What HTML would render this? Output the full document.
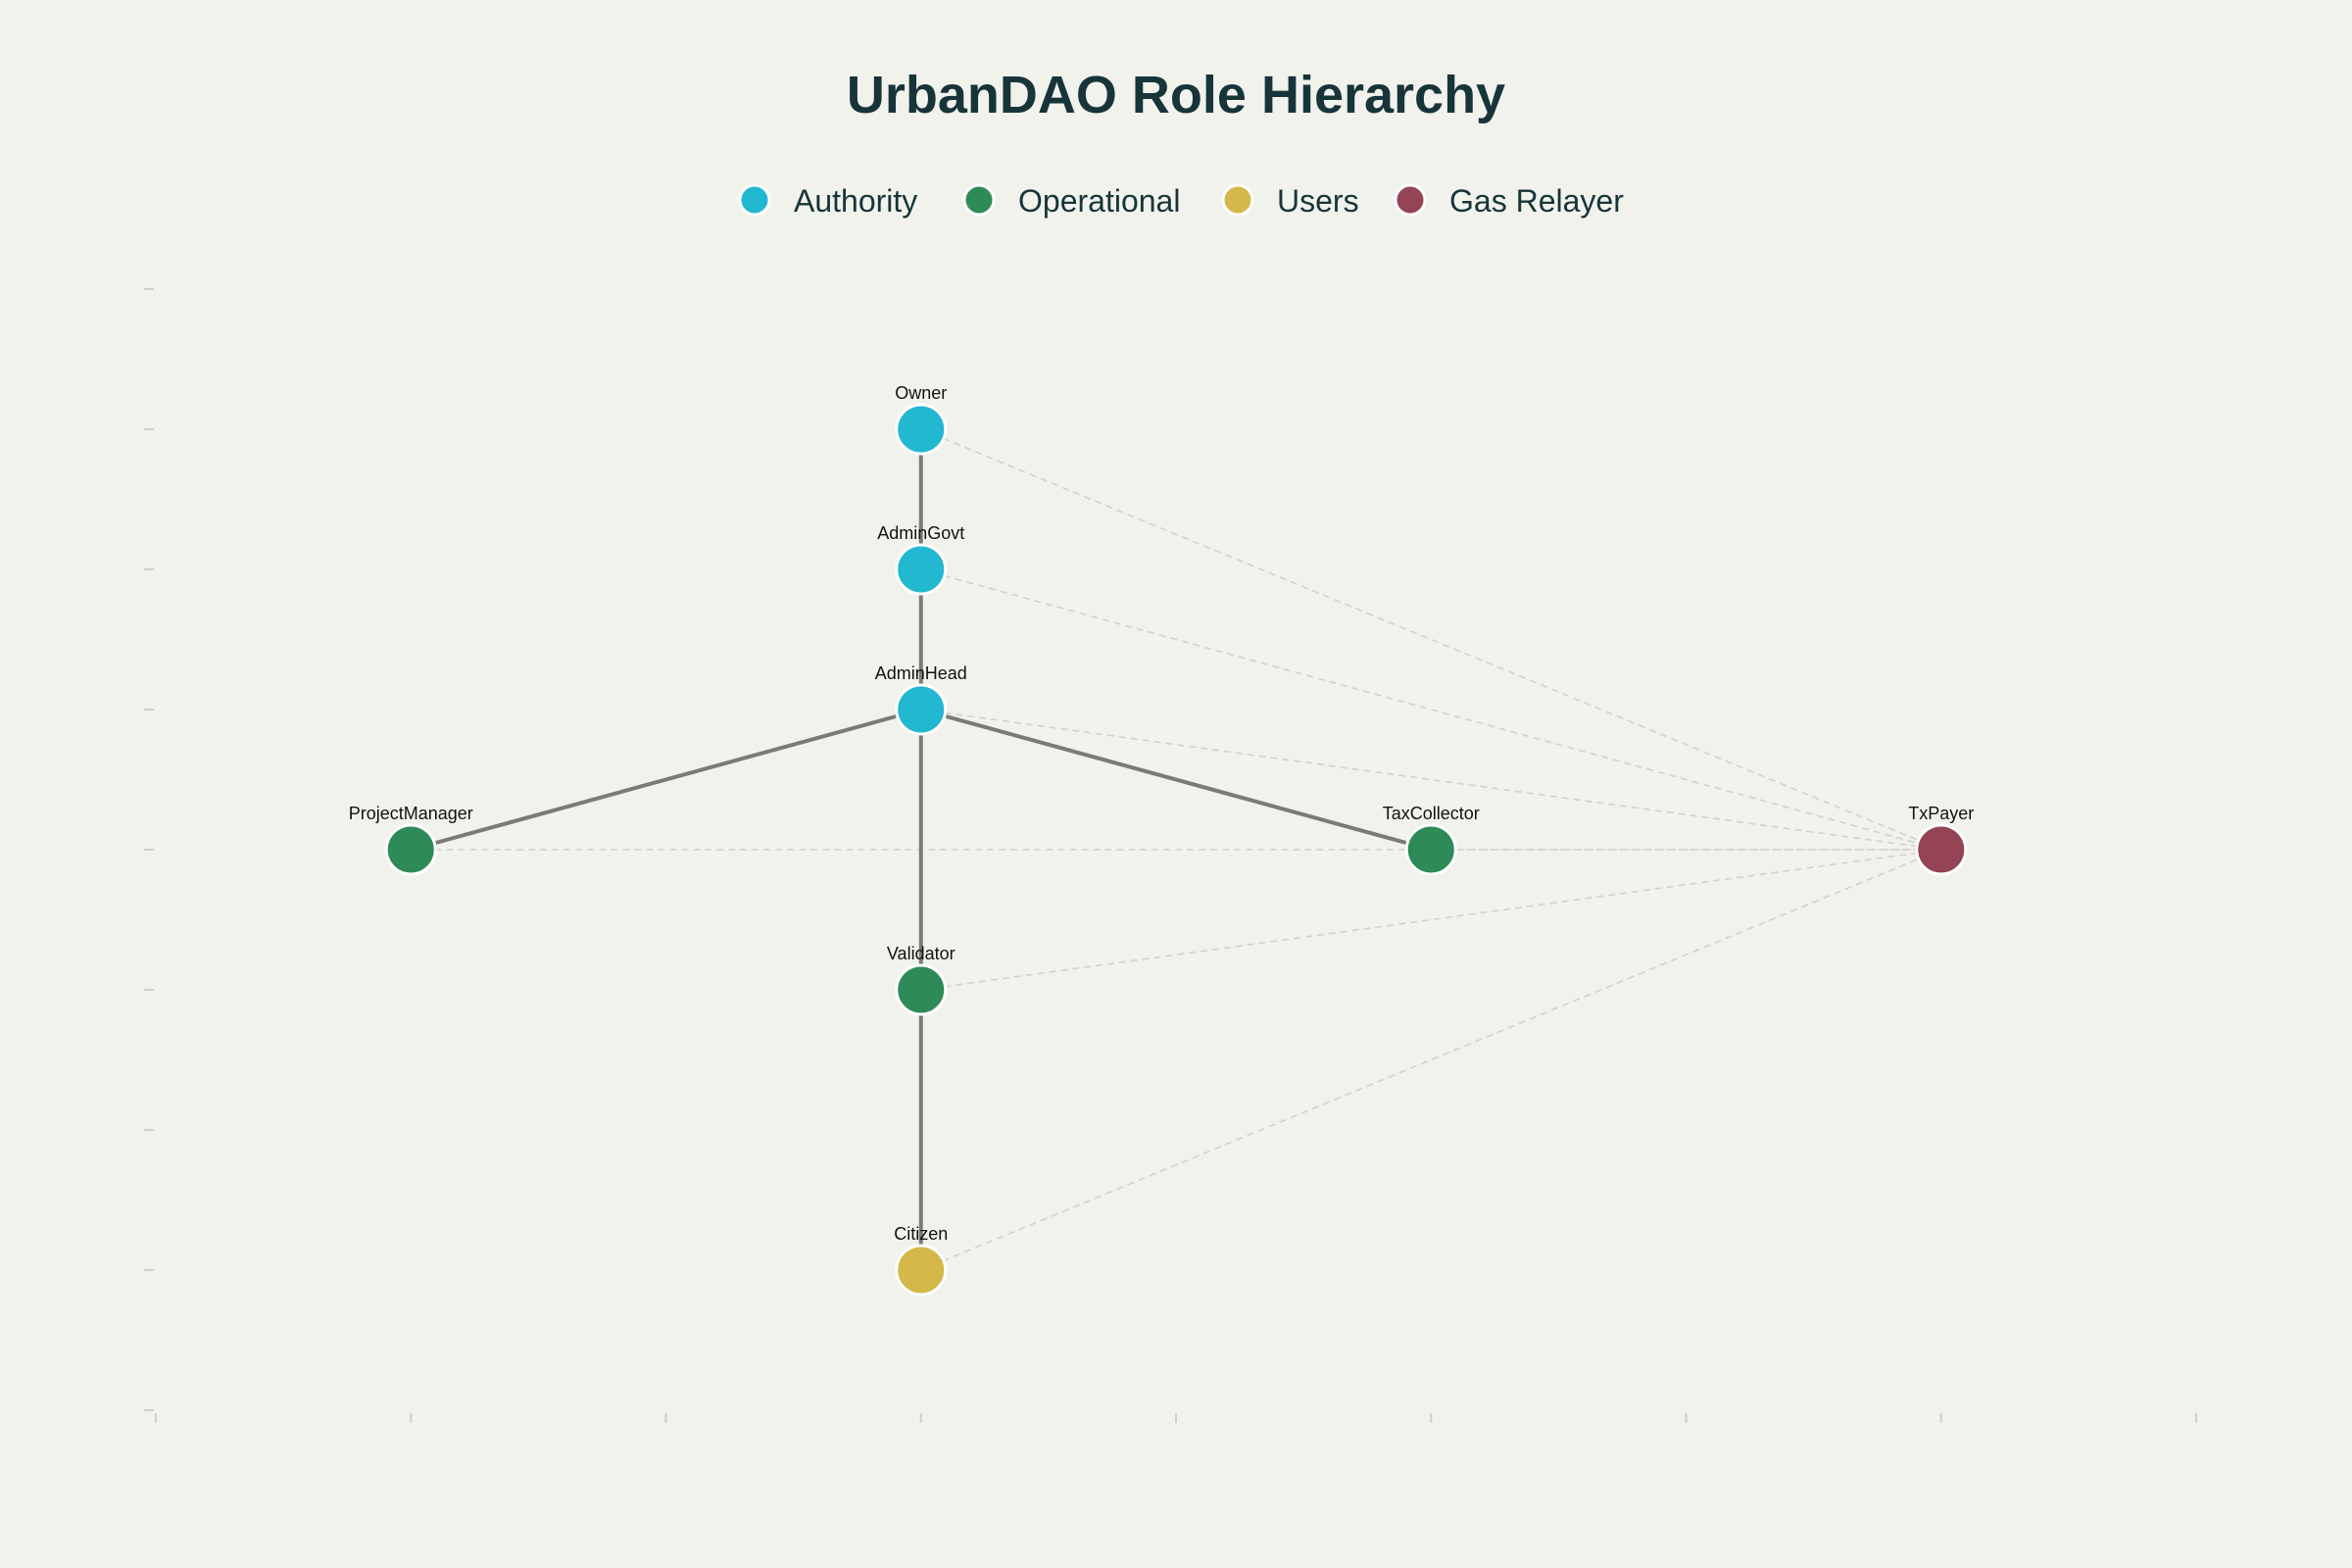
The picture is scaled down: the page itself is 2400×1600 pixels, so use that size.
<!DOCTYPE html>
<html><head><meta charset="utf-8">
<style>
html,body{margin:0;padding:0;background:#f2f2ed;}
svg{display:block;font-family:"Liberation Sans",sans-serif;}
</style></head>
<body>
<svg id="chart" width="2400" height="1600" viewBox="0 0 2400 1600">
<rect width="2400" height="1600" fill="#f2f2ed"/>
<text x="1200" y="115" text-anchor="middle" font-size="54" font-weight="bold" fill="#173538">UrbanDAO Role Hierarchy</text>
<g id="legend"></g>
<g id="axes"></g>
<g id="edges"></g>
<g id="nodes"></g>
</svg>
<script>
const nodeNames = ["Owner","AdminGovt","AdminHead","ProjectManager","TaxCollector","Validator","Citizen","TxPayer"];
const nodeX = [3,3,3,1,5,3,3,7];
const nodeY = [7,6,5,4,4,3,1,4];
const nodeGroup = ["Authority","Authority","Authority","Operational","Operational","Operational","Users","Gas Relayer"];
const solidEdges = [["Owner","AdminGovt"],["AdminGovt","AdminHead"],["AdminHead","ProjectManager"],["AdminHead","TaxCollector"],["AdminHead","Validator"],["Validator","Citizen"]];
const dashedEdges = [["Owner","TxPayer"],["AdminGovt","TxPayer"],["AdminHead","TxPayer"],["ProjectManager","TxPayer"],["TaxCollector","TxPayer"],["Validator","TxPayer"],["Citizen","TxPayer"]];
const groups = ["Authority","Operational","Users","Gas Relayer"];
const groupColors = ["#22b8cf","#2e8b57","#d4b94a","#944454"];
const xTicks = [0,1,2,3,4,5,6,7,8];
const yTicks = [0,1,2,3,4,5,6,7,8];

const NS="http://www.w3.org/2000/svg";
function xs(v){return 159+v*(2241-159)/8;}
function ys(v){return 1439-v*(1439-295)/8;}
function mk(tag,attrs,parent){const e=document.createElementNS(NS,tag);for(const k in attrs)e.setAttribute(k,attrs[k]);parent.appendChild(e);return e;}
const axes=document.getElementById('axes');
xTicks.forEach(t=>{
  const l=mk('line',{x1:xs(t),x2:xs(t),y1:1442,y2:1452,stroke:'#cfcfca','stroke-width':2},axes);
  
  
});
yTicks.forEach(t=>{
  const l=mk('line',{x1:147,x2:157,y1:ys(t),y2:ys(t),stroke:'#cfcfca','stroke-width':2},axes);
  
  
});
function idx(n){return nodeNames.indexOf(n);}
const eg=document.getElementById('edges');
dashedEdges.forEach(e=>{
  const a=idx(e[0]),b=idx(e[1]);
  const l=mk('line',{x1:xs(nodeX[a]),y1:ys(nodeY[a]),x2:xs(nodeX[b]),y2:ys(nodeY[b]),stroke:'#d2d2cd','stroke-width':1.6,'stroke-dasharray':'7,5'},eg);
  
  
});
solidEdges.forEach(e=>{
  const a=idx(e[0]),b=idx(e[1]);
  const l=mk('line',{x1:xs(nodeX[a]),y1:ys(nodeY[a]),x2:xs(nodeX[b]),y2:ys(nodeY[b]),stroke:'#7a7a78','stroke-width':4},eg);
  
  
});
const ng=document.getElementById('nodes');
nodeNames.forEach((n,i)=>{
  const c=mk('circle',{cx:xs(nodeX[i]),cy:ys(nodeY[i]),r:25,fill:groupColors[groups.indexOf(nodeGroup[i])],stroke:'#ffffff','stroke-width':3},ng);
  
  
  const t=mk('text',{x:xs(nodeX[i]),y:ys(nodeY[i])-31,'text-anchor':'middle','font-size':18,fill:'#111'},ng);
  t.textContent=n;
  
  
});
const lg=document.getElementById('legend');
const legCx=[770,999,1263,1439];
groups.forEach((g,i)=>{
  const c=mk('circle',{cx:legCx[i],cy:204,r:15,fill:groupColors[i],stroke:'#ffffff','stroke-width':3},lg);
  
  
  const t=mk('text',{x:legCx[i]+40,y:216,'font-size':32,fill:'#173538'},lg);
  t.textContent=g;
  
  
});
</script>
</body></html>
